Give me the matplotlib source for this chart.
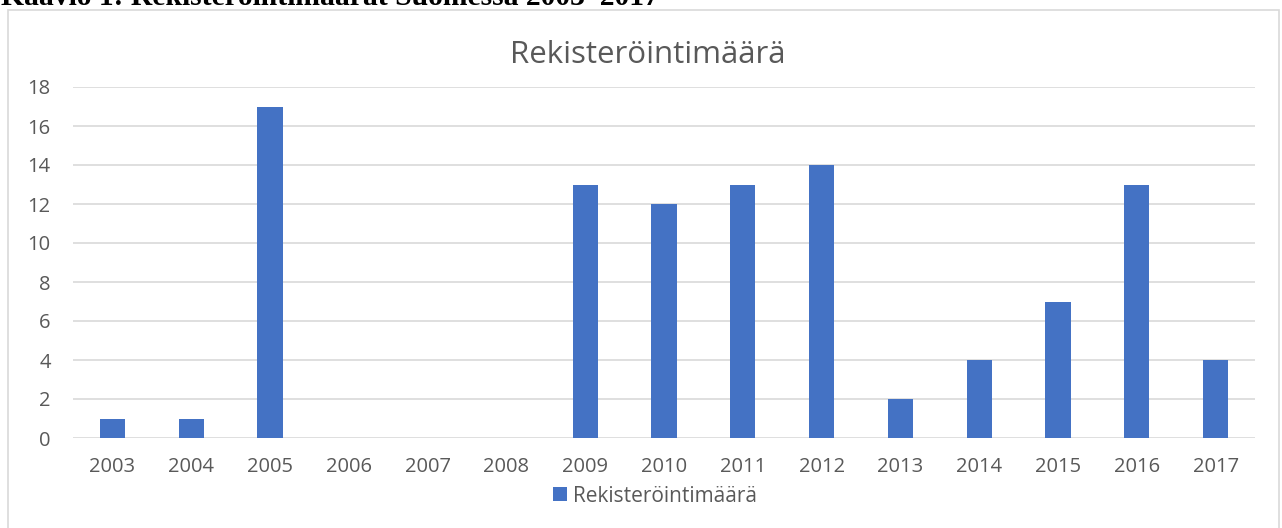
import matplotlib.pyplot as plt
from matplotlib.patches import Rectangle
import numpy as np

years = ['2003', '2004', '2005', '2006', '2007', '2008', '2009', '2010',
         '2011', '2012', '2013', '2014', '2015', '2016', '2017']
counts = [1, 1, 17, 0, 0, 0, 13, 12, 13, 14, 2, 4, 7, 13, 4]
series_name = 'Rekisteröintimäärä'
caption = 'Kaavio 1: Rekisteröintimäärät Suomessa 2003–2017'

W, H = 1282, 528
fig = plt.figure(figsize=(W / 100, H / 100), dpi=100)

# plot area in pixel coords
left, right, top, bottom = 73, 1255, 87, 438
ax = fig.add_axes([left / W, 1 - bottom / H, (right - left) / W, (bottom - top) / H])

x = np.arange(len(years))
ax.bar(x, counts, width=0.32, color='#4472C4', zorder=3, label=series_name)
ax.set_xlim(-0.5, len(years) - 0.5)
ax.set_ylim(0, 18)
ax.set_yticks(range(0, 19, 2))
ax.set_xticks(x)
ax.set_xticklabels(years)
ax.grid(axis='y', color='#D9D9D9', linewidth=1.2, zorder=0)
for s in ax.spines.values():
    s.set_visible(False)
ax.tick_params(length=0, labelsize=14.5, colors='#595959')
ax.tick_params(axis='y', pad=16)
ax.tick_params(axis='x', pad=14)
for lbl in ax.get_xticklabels() + ax.get_yticklabels():
    lbl.set_fontfamily('Open Sans')

fig.text(648 / W, 1 - 55 / H, series_name, ha='center', va='center',
         fontsize=22.5, color='#595959', family='Open Sans')

fig.legend(loc='center', bbox_to_anchor=(655 / W, 1 - 496 / H), frameon=False,
           prop={'family': 'Open Sans', 'size': 15}, labelcolor='#595959',
           handlelength=0.65, handleheight=0.65, handletextpad=0.3)

# chart border
fig.patches.append(Rectangle((8 / W, -0.01), (1279 - 8) / W, 1 - 10 / H + 0.01,
                             transform=fig.transFigure, fill=False,
                             edgecolor='#D9D9D9', linewidth=1.2))

# caption clipped at top edge, as in the source document
fig.text(1 / W, 1 - 5 / H, caption, ha='left', va='baseline', fontsize=21.3,
         fontweight='bold', family='Liberation Serif', color='black')

fig.savefig('out.png', dpi=100)
